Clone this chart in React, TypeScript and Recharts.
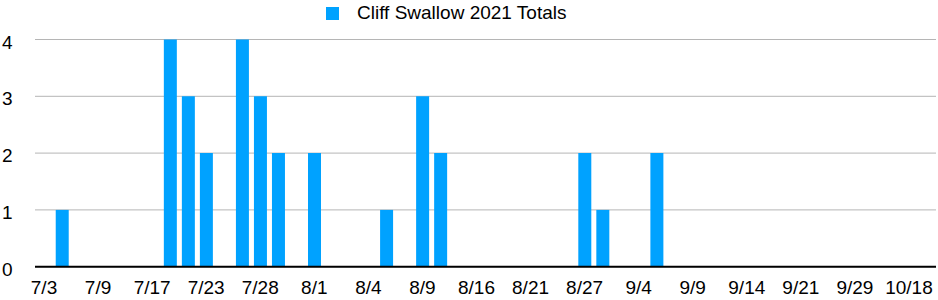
import { BarChart, Bar, XAxis, YAxis, CartesianGrid, Legend } from 'recharts';

// survey dates (only every third one is labelled on the axis)
const dates = [
  '7/3', '7/4', '7/6', '7/9', '7/11', '7/14', '7/17', '7/19', '7/21', '7/23',
  '7/25', '7/26', '7/28', '7/29', '7/30', '8/1', '8/2', '8/3', '8/4', '8/6',
  '8/8', '8/9', '8/11', '8/13', '8/16', '8/18', '8/19', '8/21', '8/23', '8/25',
  '8/27', '8/29', '9/1', '9/4', '9/5', '9/7', '9/9', '9/11', '9/12', '9/14',
  '9/16', '9/18', '9/21', '9/24', '9/26', '9/29', '10/2', '10/9', '10/18', '10/20',
];

const totals = [
  0, 1, 0, 0, 0, 0, 0, 4, 3, 2,
  0, 4, 3, 2, 0, 2, 0, 0, 0, 1,
  0, 3, 2, 0, 0, 0, 0, 0, 0, 0,
  2, 1, 0, 0, 2, 0, 0, 0, 0, 0,
  0, 0, 0, 0, 0, 0, 0, 0, 0, 0,
];

const yTicks = [0, 1, 2, 3, 4];

const seriesName = 'Cliff Swallow 2021 Totals';
const barColor = '#00a2ff';
const font = '"Liberation Sans", Arial, Helvetica, sans-serif';

const data = dates.map((d, i) => ({ date: d, total: totals[i] }));

const YTick = ({ y, payload }: any) => (
  <text x={2} y={y} dy={9} fontSize={19} fontFamily={font} fill="#000" textAnchor="start">
    {payload.value}
  </text>
);

const LegendBox = () => (
  <div style={{ display: 'flex', alignItems: 'center', fontFamily: font, fontSize: 19, color: '#000' }}>
    <span style={{ display: 'inline-block', width: 13, height: 13, background: barColor, marginRight: 18 }} />
    <span>{seriesName}</span>
  </div>
);

export default function App() {
  return (
    <div style={{ position: 'absolute', left: 0, top: 0, background: '#fff' }}>
      <BarChart
        width={938}
        height={300}
        data={data}
        margin={{ top: 39.5, right: 2, bottom: 0, left: 0 }}
        barCategoryGap="15%"
      >
        <CartesianGrid vertical={false} stroke="#b5b5b5" strokeWidth={1} />
        <XAxis
          dataKey="date"
          interval={2}
          height={33.3}
          axisLine={{ stroke: '#000', strokeWidth: 2 }}
          tickLine={false}
          tickSize={0}
          tickMargin={14}
          tick={{ fontSize: 19, fontFamily: font, fill: '#000' }}
        />
        <YAxis
          width={35}
          domain={[0, 4]}
          ticks={yTicks}
          axisLine={false}
          tickLine={false}
          tick={<YTick />}
        />
        <Legend
          verticalAlign="middle"
          align="center"
          wrapperStyle={{ top: 2, left: 326, width: 'auto' }}
          content={<LegendBox />}
        />
        <Bar dataKey="total" name={seriesName} fill={barColor} isAnimationActive={false} />
      </BarChart>
    </div>
  );
}
